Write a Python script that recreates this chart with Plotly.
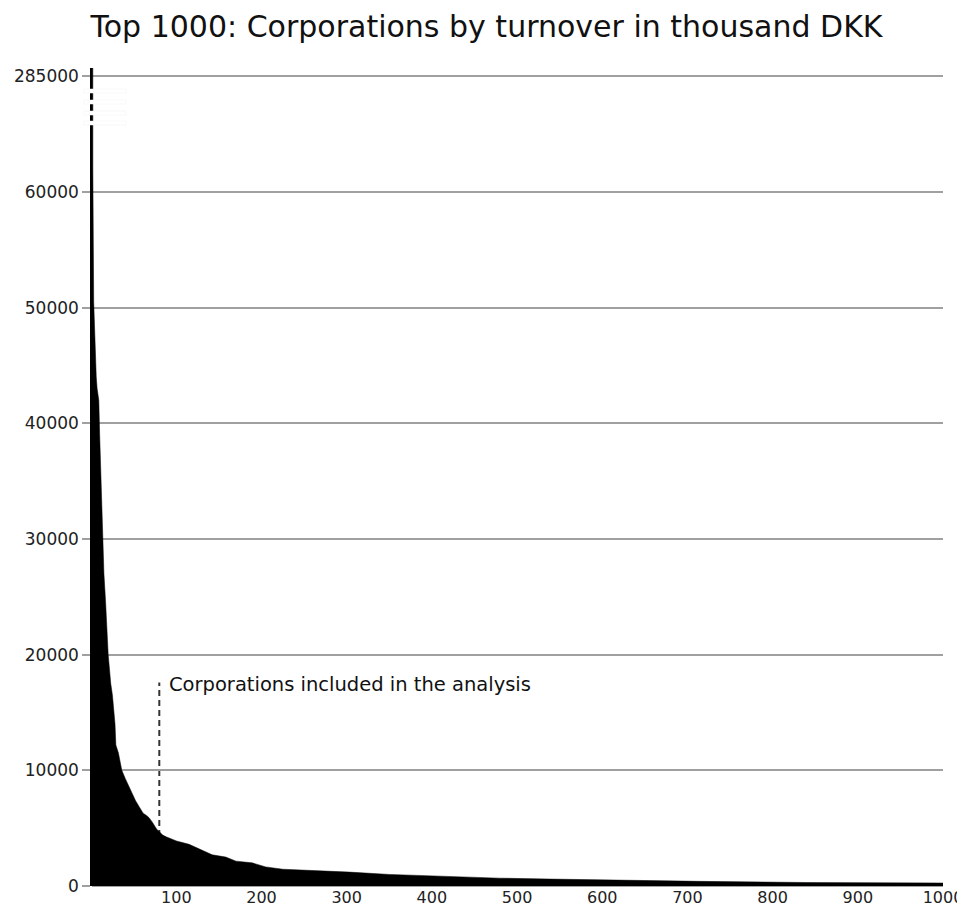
import plotly.graph_objects as go

# Read-off points of the ranked turnover curve (rank, thousand DKK)
ranks = [1, 2, 3, 4, 5, 6, 7, 8, 9, 10, 11, 12, 13, 15, 17, 20, 23, 25, 28, 29,
         32, 36, 40, 46, 52, 56, 61, 65, 68, 72, 77, 80, 84, 88, 100, 115, 127,
         142, 158, 170, 189, 205, 225, 244, 264, 303, 350, 382, 421, 460, 479,
         538, 597, 667, 714, 840, 1000]
turnover = [285000, 62000, 50500, 47500, 45500, 44000, 43000, 42200, 42000, 39000,
            36500, 34500, 30500, 27000, 24500, 20000, 17500, 16500, 14000, 12200,
            11500, 10000, 9300, 8300, 7400, 6900, 6300, 6100, 5900, 5500, 4900,
            4700, 4400, 4250, 3900, 3600, 3200, 2700, 2500, 2150, 2000, 1650,
            1450, 1400, 1300, 1200, 1000, 930, 800, 700, 680, 600, 520, 430,
            400, 300, 260]

y_tickvals = [0, 10000, 20000, 30000, 40000, 50000, 60000, 70000]
y_ticktext = ["0", "10000", "20000", "30000", "40000", "50000", "60000", "285000"]
x_tickvals = [100, 200, 300, 400, 500, 600, 700, 800, 900, 1000]
x_ticktext = [str(v) for v in x_tickvals]

cutoff_rank = 80
annotation_text = "Corporations included in the analysis"
title_text = "Top 1000: Corporations by turnover in thousand DKK"

fig = go.Figure()
fig.add_trace(go.Scatter(
    x=ranks, y=turnover, mode="lines", fill="tozeroy",
    line=dict(color="black", width=0.5), fillcolor="black",
    hoverinfo="skip", showlegend=False,
))

# dashed cutoff line
fig.add_shape(type="line", xref="x", yref="y", x0=cutoff_rank, x1=cutoff_rank,
              y0=0, y1=17600, layer="below",
              line=dict(color="#333333", width=2, dash="6px,4px"))

# axis break stripes
for y0, y1 in [(68550, 68900), (67600, 67950), (66650, 67000), (65790, 66130)]:
    fig.add_shape(type="rect", xref="paper", yref="y", x0=-0.0095, x1=0.04,
                  y0=y0, y1=y1, fillcolor="white",
                  line=dict(color="#f0f0f0", width=0.5), layer="above")

fig.add_annotation(x=89, y=17400, xref="x", yref="y", text=annotation_text,
                   showarrow=False, xanchor="left", yanchor="middle",
                   font=dict(size=19.5, color="#111111"))

fig.update_layout(
    width=957, height=900,
    margin=dict(l=84, r=22, t=60, b=22),
    paper_bgcolor="white", plot_bgcolor="white",
    font=dict(family="DejaVu Sans", color="#111111"),
    title=dict(text=title_text, x=0.5, xanchor="center", y=0.979,
               yanchor="middle", font=dict(size=30, color="#111111")),
)
fig.update_xaxes(range=[1, 1000], tickvals=x_tickvals, ticktext=x_ticktext,
                 showgrid=False, zeroline=False, showline=False, ticks="",
                 tickfont=dict(size=16, color="#222222"), automargin=False)
fig.update_yaxes(range=[0, 70716], tickvals=y_tickvals, ticktext=y_ticktext,
                 showgrid=True, gridcolor="#a0a0a0", gridwidth=1.5,
                 zeroline=True, zerolinecolor="#a0a0a0", zerolinewidth=1.5,
                 showline=True, linecolor="black", linewidth=1.5,
                 ticks="outside", ticklen=8, tickcolor="#a0a0a0", tickwidth=1.5,
                 tickfont=dict(size=17, color="#222222"), automargin=False)

fig.write_html("out.html")
